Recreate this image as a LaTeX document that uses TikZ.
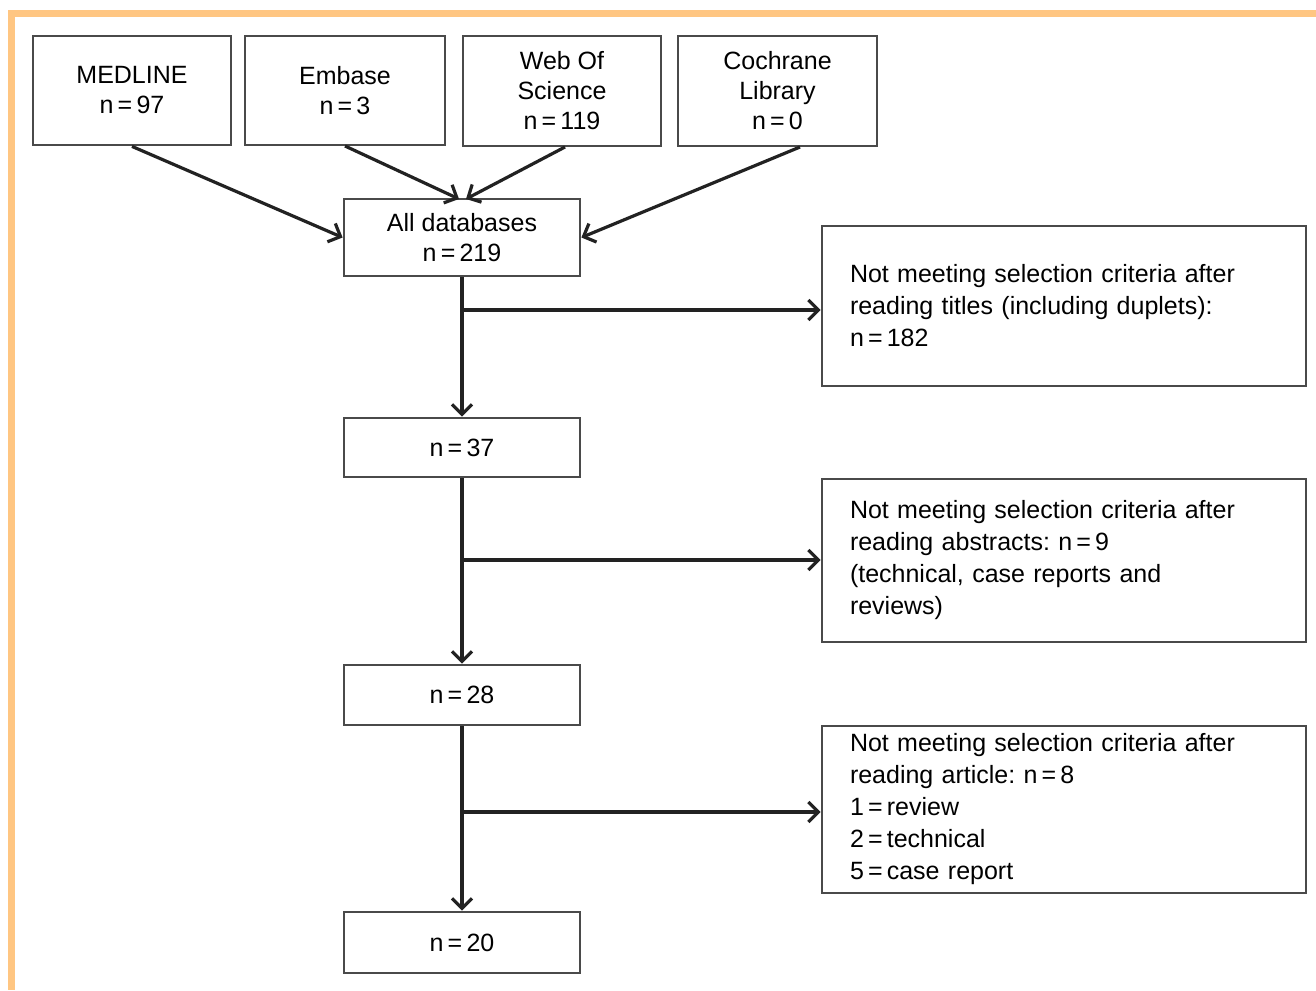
\documentclass[tikz,border=0pt]{standalone}
\usepackage{fontspec}
\setmainfont{Liberation Sans}
\usetikzlibrary{arrows.meta}
\definecolor{frameorange}{HTML}{FFC682}
\definecolor{boxgray}{HTML}{4A4A4A}
\definecolor{linegray}{HTML}{222222}
\newcommand{\nn}[1]{n\,=\,#1}
\begin{document}
\begin{tikzpicture}[x=0.5pt,y=-0.5pt,
  box/.style={draw=boxgray, line width=1.4pt, inner sep=0pt, align=center,
    font=\frenchspacing\fontsize{12.5pt}{15pt}\selectfont},
  sidebox/.style={draw=boxgray, line width=1.4pt, inner xsep=14pt, inner ysep=0pt,
    text width=214pt, align=left, minimum width=242pt,
    font=\frenchspacing\fontsize{12.5pt}{16pt}\selectfont},
  conn/.style={draw=linegray, line width=1.6pt,
    -{Straight Barb[length=5pt,width=10pt,line width=1.6pt]}}]
\useasboundingbox (0,0) rectangle (1316,990);
% orange frame
\fill[frameorange] (8,10) rectangle (15,990);
\fill[frameorange] (8,10) rectangle (1316,17);
% source boxes
\node[box, minimum width=99pt, minimum height=54.5pt] (med) at (132,90.5) {MEDLINE\\\nn{97}};
\node[box, minimum width=100pt, minimum height=54.5pt] (emb) at (345,90.5) {Embase\\\nn{3}};
\node[box, minimum width=99pt, minimum height=55pt] (wos) at (562,91) {Web Of\\Science\\\nn{119}};
\node[box, minimum width=99.5pt, minimum height=55pt] (coch) at (777.5,91) {Cochrane\\Library\\\nn{0}};
% main column
\node[box, minimum width=118pt, minimum height=38.5pt] (all) at (462,237.5) {All databases\\\nn{219}};
\node[box, minimum width=118pt, minimum height=29.5pt] (n37) at (462,447.5) {\nn{37}};
\node[box, minimum width=118pt, minimum height=30pt] (n28) at (462,695) {\nn{28}};
\node[box, minimum width=118pt, minimum height=30.5pt] (n20) at (462,942.5) {\nn{20}};
% exclusion boxes
\node[sidebox, minimum height=80pt] (r1) at (1064,306) {Not meeting selection criteria after\\reading titles (including duplets):\\\nn{182}};
\node[sidebox, minimum height=81.5pt] (r2) at (1064,560.5) {Not meeting selection criteria after\\reading abstracts: \nn{9}\\(technical, case reports and\\reviews)};
\node[sidebox, minimum height=83.5pt] (r3) at (1064,809.5) {Not meeting selection criteria after\\reading article: \nn{8}\\1\,=\,review\\2\,=\,technical\\5\,=\,case report};
% convergence points
\coordinate (embS) at (345,146);
\coordinate (wosS) at (565,147);
\coordinate (cochS) at (800,147);
\coordinate (allL) at (459,199);
\coordinate (allR) at (466,199);
\draw[conn] (med.south) -- (all.west);
\draw[conn] (embS) -- (allL);
\draw[conn] (wosS) -- (allR);
\draw[conn] (cochS) -- (all.east);
% main flow
\draw[conn] (all.south) -- (n37.north);
\draw[conn] (n37.south) -- (n28.north);
\draw[conn] (n28.south) -- (n20.north);
% branches
\coordinate (b1) at (462,310);
\coordinate (b2) at (462,560);
\coordinate (b3) at (462,812);
\draw[conn] (b1) -- (b1 -| r1.west);
\draw[conn] (b2) -- (b2 -| r2.west);
\draw[conn] (b3) -- (b3 -| r3.west);
\end{tikzpicture}
\end{document}
